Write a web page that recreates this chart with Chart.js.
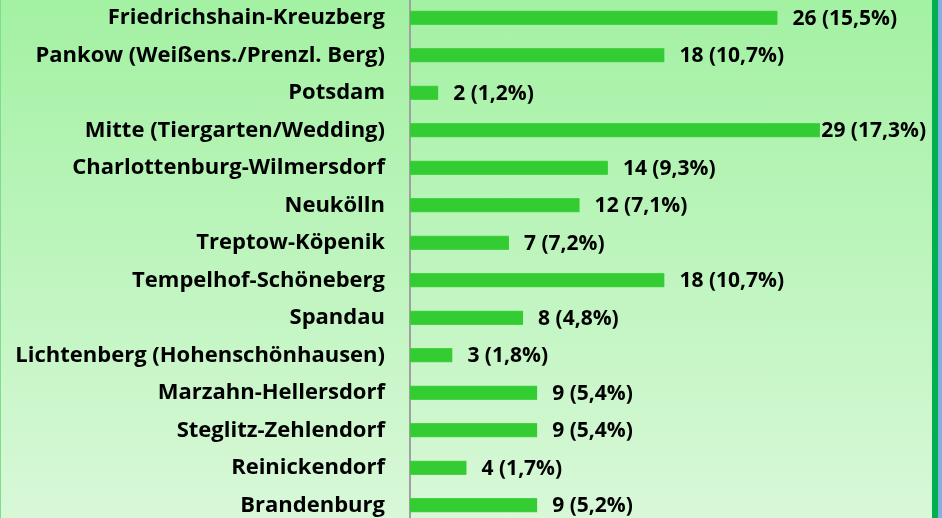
<!DOCTYPE html>
<html>
<head>
<meta charset="utf-8">
<script src="https://cdn.jsdelivr.net/npm/chart.js@4"></script>
<style>
  html, body { margin: 0; padding: 0; width: 942px; height: 518px; overflow: hidden; }
  body { background: linear-gradient(to bottom, #a3f1a3 0%, #d8f8d8 100%); position: relative; }
  #frame { position: absolute; left: 0; top: 0; width: 932px; height: 518px; border-left: 1px solid #7fdc8f; box-sizing: border-box; }
  #greenEdge { position: absolute; left: 932px; top: 0; width: 6px; height: 518px; background: #00b050; }
  #blueEdge { position: absolute; left: 938px; top: 0; width: 4px; height: 518px; background: #86aee0; }
  #wrap { position: absolute; left: 0; top: -1px; width: 942px; height: 525px; }
</style>
</head>
<body>
<div id="frame"></div>
<div id="wrap"><canvas id="c"></canvas></div>
<div id="greenEdge"></div>
<div id="blueEdge"></div>
<script>
const categories = [
  'Friedrichshain-Kreuzberg',
  'Pankow (Weißens./Prenzl. Berg)',
  'Potsdam',
  'Mitte (Tiergarten/Wedding)',
  'Charlottenburg-Wilmersdorf',
  'Neukölln',
  'Treptow-Köpenik',
  'Tempelhof-Schöneberg',
  'Spandau',
  'Lichtenberg (Hohenschönhausen)',
  'Marzahn-Hellersdorf',
  'Steglitz-Zehlendorf',
  'Reinickendorf',
  'Brandenburg'
];
const counts = [26, 18, 2, 29, 14, 12, 7, 18, 8, 3, 9, 9, 4, 9];
const percents = ['15,5', '10,7', '1,2', '17,3', '9,3', '7,1', '7,2', '10,7', '4,8', '1,8', '5,4', '5,4', '1,7', '5,2'];

const FONT = '"Open Sans", Lato, sans-serif';

const valueLabels = {
  id: 'valueLabels',
  afterDatasetsDraw(chart) {
    const ctx = chart.ctx;
    const meta = chart.getDatasetMeta(0);
    ctx.save();
    ctx.font = 'bold 21px ' + FONT;
    ctx.fillStyle = '#000';
    ctx.textAlign = 'left';
    ctx.textBaseline = 'middle';
    meta.data.forEach((bar, i) => {
      const text = counts[i] + ' (' + percents[i] + '%)';
      const w = ctx.measureText(text).width;
      const x = Math.min(bar.x + 15, 926 - w);
      ctx.fillText(text, x, bar.y + 1);
    });
    ctx.restore();
  }
};

new Chart(document.getElementById('c'), {
  type: 'bar',
  data: {
    labels: categories,
    datasets: [{
      data: counts,
      backgroundColor: '#33cc33',
      borderColor: '#44d444',
      borderWidth: { top: 1, bottom: 1, left: 0, right: 0 },
      borderSkipped: false,
      barThickness: 14
    }]
  },
  options: {
    indexAxis: 'y',
    responsive: true,
    maintainAspectRatio: false,
    animation: false,
    layout: { padding: { left: 0, right: 9, top: 0, bottom: 0 } },
    plugins: { legend: { display: false }, tooltip: { enabled: false } },
    scales: {
      x: {
        display: false,
        min: 0,
        max: 37
      },
      y: {
        afterFit(scale) { scale.width = 410; scale.paddingTop = 0; scale.paddingBottom = 0; },
        grid: { display: false, drawTicks: false },
        border: { display: true, color: '#a0a0a0', width: 2 },
        ticks: {
          padding: 25,
          color: '#000',
          font: { family: FONT, size: 22, weight: 'bold' },
          autoSkip: false
        }
      }
    }
  },
  plugins: [valueLabels]
});
</script>
</body>
</html>
